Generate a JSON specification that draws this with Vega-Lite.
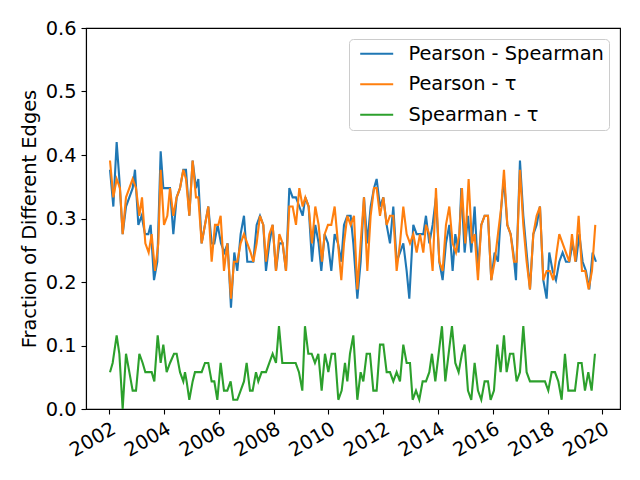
{
  "$schema": "https://vega.github.io/schema/vega-lite/v6.json",
  "width": 534,
  "height": 381,
  "autosize": {"type": "none"},
  "padding": {"left": 86, "top": 28, "right": 20, "bottom": 71},
  "background": "white",
  "config": {
    "font": "DejaVu Sans",
    "view": {"stroke": "black", "strokeWidth": 1.1},
    "axis": {"grid": false, "domainColor": "black", "domainWidth": 1.1, "tickColor": "black", "tickWidth": 1.1, "tickSize": 5, "labelFont": "DejaVu Sans", "labelFontSize": 19.4, "labelColor": "black", "labelPadding": 5, "titleFont": "DejaVu Sans", "titleFontSize": 19.4, "titleFontWeight": "normal", "titleColor": "black"},
    "legend": {"orient": "top-right", "offset": 11, "fillColor": "white", "strokeColor": "#cccccc", "cornerRadius": 4, "padding": 5, "labelFontSize": 19.4, "labelFont": "DejaVu Sans", "labelColor": "black", "symbolType": "M-2,0H2", "symbolSize": 272, "symbolStrokeWidth": 2.1, "symbolOffset": 13, "rowPadding": 9.5, "labelOffset": 22, "labelLimit": 400}
  },
  "encoding": {
    "x": {"field": "t", "type": "quantitative", "scale": {"domain": [2001.15, 2020.64], "nice": false, "zero": false}, "axis": {"values": [2002, 2004, 2006, 2008, 2010, 2012, 2014, 2016, 2018, 2020], "format": "d", "labelAngle": -30, "labelAlign": "right", "labelBaseline": "top", "title": null}},
    "y": {"field": "v", "type": "quantitative", "scale": {"domain": [0, 0.6], "nice": false}, "axis": {"values": [0, 0.1, 0.2, 0.3, 0.4, 0.5, 0.6], "format": ".1f", "title": "Fraction of Different Edges", "titlePadding": 6}}
  },
  "layer": [
    {
      "data": {"values": [
        {"t":2002.026,"v":0.3768},{"t":2002.148,"v":0.3188},{"t":2002.269,"v":0.4203},{"t":2002.367,"v":0.3623},{"t":2002.488,"v":0.2754},{"t":2002.610,"v":0.3188},{"t":2002.732,"v":0.3333},{"t":2002.853,"v":0.3478},{"t":2002.938,"v":0.3768},{"t":2003.060,"v":0.2899},
        {"t":2003.182,"v":0.3043},{"t":2003.304,"v":0.2754},{"t":2003.425,"v":0.2754},{"t":2003.510,"v":0.2899},{"t":2003.632,"v":0.2029},{"t":2003.753,"v":0.2319},{"t":2003.875,"v":0.4058},{"t":2003.972,"v":0.3478},{"t":2004.094,"v":0.3478},{"t":2004.216,"v":0.3478},
        {"t":2004.337,"v":0.2754},{"t":2004.459,"v":0.3333},{"t":2004.581,"v":0.3478},{"t":2004.702,"v":0.3768},{"t":2004.799,"v":0.3768},{"t":2004.921,"v":0.3043},{"t":2005.042,"v":0.3913},{"t":2005.164,"v":0.3478},{"t":2005.249,"v":0.3623},{"t":2005.371,"v":0.2609},
        {"t":2005.492,"v":0.2899},{"t":2005.614,"v":0.3188},{"t":2005.736,"v":0.2609},{"t":2005.833,"v":0.2609},{"t":2005.955,"v":0.2899},{"t":2006.076,"v":0.2609},{"t":2006.198,"v":0.2464},{"t":2006.320,"v":0.2609},{"t":2006.441,"v":0.1594},{"t":2006.563,"v":0.2464},
        {"t":2006.672,"v":0.2174},{"t":2006.794,"v":0.2754},{"t":2006.916,"v":0.3043},{"t":2007.037,"v":0.2319},{"t":2007.159,"v":0.2319},{"t":2007.256,"v":0.2319},{"t":2007.378,"v":0.2899},{"t":2007.500,"v":0.3043},{"t":2007.621,"v":0.2899},{"t":2007.719,"v":0.2174},
        {"t":2007.841,"v":0.2609},{"t":2007.962,"v":0.2899},{"t":2008.084,"v":0.2174},{"t":2008.206,"v":0.2609},{"t":2008.327,"v":0.2609},{"t":2008.449,"v":0.2174},{"t":2008.571,"v":0.3478},{"t":2008.692,"v":0.3333},{"t":2008.814,"v":0.3333},{"t":2008.936,"v":0.3188},
        {"t":2009.057,"v":0.3043},{"t":2009.155,"v":0.3333},{"t":2009.276,"v":0.3188},{"t":2009.398,"v":0.2319},{"t":2009.519,"v":0.2899},{"t":2009.641,"v":0.2609},{"t":2009.738,"v":0.2174},{"t":2009.860,"v":0.2754},{"t":2009.982,"v":0.2609},{"t":2010.103,"v":0.2174},
        {"t":2010.225,"v":0.2754},{"t":2010.347,"v":0.2609},{"t":2010.468,"v":0.2319},{"t":2010.566,"v":0.2899},{"t":2010.688,"v":0.3043},{"t":2010.809,"v":0.3043},{"t":2010.907,"v":0.2609},{"t":2011.053,"v":0.1739},{"t":2011.174,"v":0.2319},{"t":2011.296,"v":0.3333},
        {"t":2011.418,"v":0.2609},{"t":2011.539,"v":0.3188},{"t":2011.661,"v":0.3478},{"t":2011.758,"v":0.3623},{"t":2011.880,"v":0.3188},{"t":2012.002,"v":0.3333},{"t":2012.123,"v":0.2899},{"t":2012.245,"v":0.2609},{"t":2012.366,"v":0.3188},{"t":2012.488,"v":0.2319},
        {"t":2012.610,"v":0.2464},{"t":2012.731,"v":0.2609},{"t":2012.853,"v":0.2174},{"t":2012.950,"v":0.1739},{"t":2013.096,"v":0.2899},{"t":2013.218,"v":0.2754},{"t":2013.340,"v":0.2754},{"t":2013.461,"v":0.2754},{"t":2013.558,"v":0.3043},{"t":2013.680,"v":0.2609},
        {"t":2013.801,"v":0.2899},{"t":2013.923,"v":0.3333},{"t":2014.045,"v":0.2319},{"t":2014.166,"v":0.2029},{"t":2014.288,"v":0.2609},{"t":2014.410,"v":0.2899},{"t":2014.531,"v":0.2174},{"t":2014.629,"v":0.2754},{"t":2014.750,"v":0.2464},{"t":2014.848,"v":0.3478},
        {"t":2014.969,"v":0.2464},{"t":2015.091,"v":0.3043},{"t":2015.212,"v":0.2464},{"t":2015.334,"v":0.3188},{"t":2015.456,"v":0.2174},{"t":2015.577,"v":0.2899},{"t":2015.699,"v":0.3043},{"t":2015.821,"v":0.3043},{"t":2015.942,"v":0.2029},{"t":2016.064,"v":0.2464},
        {"t":2016.186,"v":0.2319},{"t":2016.307,"v":0.3188},{"t":2016.405,"v":0.3623},{"t":2016.527,"v":0.2899},{"t":2016.648,"v":0.2754},{"t":2016.746,"v":0.2464},{"t":2016.843,"v":0.2029},{"t":2016.989,"v":0.3913},{"t":2017.111,"v":0.3043},{"t":2017.232,"v":0.2464},
        {"t":2017.354,"v":0.1884},{"t":2017.476,"v":0.2754},{"t":2017.597,"v":0.2899},{"t":2017.719,"v":0.3188},{"t":2017.841,"v":0.2029},{"t":2017.962,"v":0.1739},{"t":2018.059,"v":0.2464},{"t":2018.181,"v":0.2174},{"t":2018.303,"v":0.2029},{"t":2018.424,"v":0.2319},
        {"t":2018.546,"v":0.2464},{"t":2018.668,"v":0.2319},{"t":2018.789,"v":0.2319},{"t":2018.911,"v":0.2609},{"t":2019.033,"v":0.2319},{"t":2019.154,"v":0.2754},{"t":2019.276,"v":0.2319},{"t":2019.398,"v":0.2174},{"t":2019.519,"v":0.1884},{"t":2019.641,"v":0.2464},
        {"t":2019.763,"v":0.2319}
      ]},
      "mark": {"type": "line", "strokeWidth": 2.1},
      "encoding": {"color": {"datum": "Pearson - Spearman", "type": "nominal", "scale": {"domain": ["Pearson - Spearman", "Pearson - τ", "Spearman - τ"], "range": ["#1f77b4", "#ff7f0e", "#2ca02c"]}, "legend": {"title": null}}}
    },
    {
      "data": {"values": [
        {"t":2002.026,"v":0.3913},{"t":2002.148,"v":0.3333},{"t":2002.269,"v":0.3623},{"t":2002.391,"v":0.3478},{"t":2002.488,"v":0.2754},{"t":2002.610,"v":0.3333},{"t":2002.732,"v":0.3478},{"t":2002.853,"v":0.3623},{"t":2002.975,"v":0.3478},{"t":2003.097,"v":0.3043},
        {"t":2003.194,"v":0.3333},{"t":2003.316,"v":0.2609},{"t":2003.437,"v":0.2464},{"t":2003.547,"v":0.2754},{"t":2003.668,"v":0.2174},{"t":2003.790,"v":0.2609},{"t":2003.875,"v":0.3768},{"t":2003.997,"v":0.2899},{"t":2004.118,"v":0.3043},{"t":2004.216,"v":0.3478},
        {"t":2004.337,"v":0.3043},{"t":2004.459,"v":0.3333},{"t":2004.581,"v":0.3478},{"t":2004.702,"v":0.3768},{"t":2004.799,"v":0.3623},{"t":2004.921,"v":0.3043},{"t":2005.042,"v":0.3913},{"t":2005.164,"v":0.3333},{"t":2005.249,"v":0.3333},{"t":2005.371,"v":0.2609},
        {"t":2005.492,"v":0.2899},{"t":2005.614,"v":0.3188},{"t":2005.736,"v":0.2319},{"t":2005.857,"v":0.2899},{"t":2005.979,"v":0.2899},{"t":2006.064,"v":0.3043},{"t":2006.186,"v":0.2174},{"t":2006.307,"v":0.2609},{"t":2006.441,"v":0.1739},{"t":2006.551,"v":0.2319},
        {"t":2006.672,"v":0.2319},{"t":2006.794,"v":0.2609},{"t":2006.916,"v":0.2754},{"t":2007.037,"v":0.2609},{"t":2007.159,"v":0.2464},{"t":2007.256,"v":0.2319},{"t":2007.378,"v":0.2609},{"t":2007.500,"v":0.3043},{"t":2007.621,"v":0.2899},{"t":2007.719,"v":0.2319},
        {"t":2007.841,"v":0.2754},{"t":2007.962,"v":0.2899},{"t":2008.084,"v":0.2174},{"t":2008.206,"v":0.2754},{"t":2008.327,"v":0.2609},{"t":2008.449,"v":0.2174},{"t":2008.571,"v":0.3188},{"t":2008.692,"v":0.3188},{"t":2008.814,"v":0.2899},{"t":2008.936,"v":0.3478},
        {"t":2009.057,"v":0.3188},{"t":2009.155,"v":0.3333},{"t":2009.276,"v":0.3188},{"t":2009.398,"v":0.2609},{"t":2009.519,"v":0.3188},{"t":2009.641,"v":0.2899},{"t":2009.763,"v":0.2319},{"t":2009.860,"v":0.2754},{"t":2009.982,"v":0.2899},{"t":2010.103,"v":0.2899},
        {"t":2010.225,"v":0.3188},{"t":2010.347,"v":0.2609},{"t":2010.468,"v":0.2029},{"t":2010.566,"v":0.2609},{"t":2010.688,"v":0.3043},{"t":2010.809,"v":0.2899},{"t":2010.931,"v":0.3043},{"t":2011.053,"v":0.1884},{"t":2011.174,"v":0.2609},{"t":2011.296,"v":0.3333},
        {"t":2011.418,"v":0.2174},{"t":2011.539,"v":0.3043},{"t":2011.661,"v":0.3478},{"t":2011.758,"v":0.3478},{"t":2011.880,"v":0.3043},{"t":2012.002,"v":0.3333},{"t":2012.123,"v":0.2899},{"t":2012.245,"v":0.3043},{"t":2012.366,"v":0.3043},{"t":2012.488,"v":0.2174},
        {"t":2012.610,"v":0.2609},{"t":2012.731,"v":0.3188},{"t":2012.853,"v":0.2754},{"t":2012.975,"v":0.2609},{"t":2013.096,"v":0.2754},{"t":2013.218,"v":0.2464},{"t":2013.340,"v":0.2754},{"t":2013.461,"v":0.2464},{"t":2013.558,"v":0.2899},{"t":2013.680,"v":0.2754},
        {"t":2013.801,"v":0.2174},{"t":2013.923,"v":0.3478},{"t":2014.045,"v":0.2319},{"t":2014.166,"v":0.2174},{"t":2014.288,"v":0.2899},{"t":2014.410,"v":0.3188},{"t":2014.531,"v":0.2609},{"t":2014.653,"v":0.2464},{"t":2014.775,"v":0.2754},{"t":2014.872,"v":0.3478},
        {"t":2014.994,"v":0.2609},{"t":2015.115,"v":0.3623},{"t":2015.237,"v":0.2609},{"t":2015.334,"v":0.2754},{"t":2015.456,"v":0.2029},{"t":2015.577,"v":0.2899},{"t":2015.699,"v":0.3043},{"t":2015.821,"v":0.3043},{"t":2015.942,"v":0.2029},{"t":2016.064,"v":0.2319},
        {"t":2016.186,"v":0.2754},{"t":2016.307,"v":0.3188},{"t":2016.405,"v":0.3768},{"t":2016.527,"v":0.2899},{"t":2016.648,"v":0.2754},{"t":2016.770,"v":0.2319},{"t":2016.867,"v":0.2319},{"t":2016.989,"v":0.3768},{"t":2017.111,"v":0.2899},{"t":2017.232,"v":0.2319},
        {"t":2017.354,"v":0.1884},{"t":2017.476,"v":0.2754},{"t":2017.597,"v":0.3043},{"t":2017.719,"v":0.3188},{"t":2017.841,"v":0.2029},{"t":2017.962,"v":0.2174},{"t":2018.084,"v":0.2174},{"t":2018.205,"v":0.2029},{"t":2018.327,"v":0.2464},{"t":2018.424,"v":0.2754},
        {"t":2018.546,"v":0.2609},{"t":2018.668,"v":0.2464},{"t":2018.789,"v":0.2319},{"t":2018.887,"v":0.2754},{"t":2019.008,"v":0.2319},{"t":2019.130,"v":0.3043},{"t":2019.252,"v":0.2174},{"t":2019.373,"v":0.2174},{"t":2019.495,"v":0.1884},{"t":2019.617,"v":0.2174},
        {"t":2019.738,"v":0.2899}
      ]},
      "mark": {"type": "line", "strokeWidth": 2.1},
      "encoding": {"color": {"datum": "Pearson - τ", "type": "nominal"}}
    },
    {
      "data": {"values": [
        {"t":2002.026,"v":0.0580},{"t":2002.123,"v":0.0725},{"t":2002.269,"v":0.1159},{"t":2002.367,"v":0.0870},{"t":2002.488,"v":0},{"t":2002.610,"v":0.0870},{"t":2002.732,"v":0.0580},{"t":2002.853,"v":0.0290},{"t":2002.975,"v":0.0290},{"t":2003.097,"v":0.0870},
        {"t":2003.218,"v":0.0725},{"t":2003.316,"v":0.0580},{"t":2003.461,"v":0.0580},{"t":2003.547,"v":0.0580},{"t":2003.644,"v":0.0435},{"t":2003.766,"v":0.1159},{"t":2003.875,"v":0.0725},{"t":2003.972,"v":0.1014},{"t":2004.094,"v":0.0580},{"t":2004.216,"v":0.0725},
        {"t":2004.362,"v":0.0870},{"t":2004.459,"v":0.0870},{"t":2004.581,"v":0.0580},{"t":2004.702,"v":0.0435},{"t":2004.763,"v":0.0580},{"t":2004.823,"v":0.0435},{"t":2004.921,"v":0.0145},{"t":2005.042,"v":0.0435},{"t":2005.127,"v":0.0580},{"t":2005.249,"v":0.0580},
        {"t":2005.371,"v":0.0580},{"t":2005.492,"v":0.0725},{"t":2005.614,"v":0.0725},{"t":2005.736,"v":0.0435},{"t":2005.833,"v":0.0435},{"t":2005.943,"v":0.0145},{"t":2006.064,"v":0.0725},{"t":2006.186,"v":0.0290},{"t":2006.307,"v":0.0290},{"t":2006.429,"v":0.0435},
        {"t":2006.526,"v":0.0145},{"t":2006.672,"v":0.0145},{"t":2006.794,"v":0.0290},{"t":2006.916,"v":0.0435},{"t":2007.013,"v":0.0725},{"t":2007.135,"v":0.0290},{"t":2007.232,"v":0.0290},{"t":2007.354,"v":0.0580},{"t":2007.439,"v":0.0435},{"t":2007.561,"v":0.0580},
        {"t":2007.719,"v":0.0580},{"t":2007.841,"v":0.0725},{"t":2007.962,"v":0.0870},{"t":2008.084,"v":0.0725},{"t":2008.193,"v":0.1304},{"t":2008.315,"v":0.0725},{"t":2008.437,"v":0.0725},{"t":2008.558,"v":0.0725},{"t":2008.680,"v":0.0725},{"t":2008.802,"v":0.0725},
        {"t":2008.923,"v":0.0580},{"t":2009.045,"v":0.0290},{"t":2009.142,"v":0.1304},{"t":2009.264,"v":0.0870},{"t":2009.386,"v":0.0870},{"t":2009.507,"v":0.0725},{"t":2009.629,"v":0.0870},{"t":2009.751,"v":0.0290},{"t":2009.872,"v":0.0870},{"t":2009.994,"v":0.0580},
        {"t":2010.116,"v":0.0870},{"t":2010.237,"v":0.0870},{"t":2010.359,"v":0.0145},{"t":2010.481,"v":0.0290},{"t":2010.602,"v":0.0725},{"t":2010.688,"v":0.0435},{"t":2010.785,"v":0.0870},{"t":2010.907,"v":0.1159},{"t":2011.053,"v":0.0145},{"t":2011.174,"v":0.0580},
        {"t":2011.272,"v":0.0435},{"t":2011.393,"v":0.0870},{"t":2011.515,"v":0.0870},{"t":2011.637,"v":0.0290},{"t":2011.758,"v":0.0290},{"t":2011.880,"v":0.1014},{"t":2012.002,"v":0.1014},{"t":2012.123,"v":0.0580},{"t":2012.245,"v":0.0580},{"t":2012.366,"v":0.0435},
        {"t":2012.488,"v":0.0580},{"t":2012.610,"v":0.0435},{"t":2012.731,"v":0.1014},{"t":2012.853,"v":0.0725},{"t":2012.975,"v":0.0725},{"t":2013.072,"v":0.0145},{"t":2013.194,"v":0.0290},{"t":2013.315,"v":0.0145},{"t":2013.437,"v":0.0435},{"t":2013.558,"v":0.0435},
        {"t":2013.680,"v":0.0580},{"t":2013.777,"v":0.0870},{"t":2013.899,"v":0.0435},{"t":2014.020,"v":0.0870},{"t":2014.142,"v":0.1304},{"t":2014.264,"v":0.0435},{"t":2014.385,"v":0.0870},{"t":2014.507,"v":0.1304},{"t":2014.629,"v":0.0725},{"t":2014.750,"v":0.0580},
        {"t":2014.872,"v":0.0870},{"t":2014.969,"v":0.1014},{"t":2015.091,"v":0.0290},{"t":2015.212,"v":0.0145},{"t":2015.334,"v":0.0725},{"t":2015.456,"v":0.0290},{"t":2015.577,"v":0.0145},{"t":2015.699,"v":0.0435},{"t":2015.821,"v":0.0435},{"t":2015.918,"v":0.0145},
        {"t":2016.040,"v":0.0290},{"t":2016.161,"v":0.1014},{"t":2016.283,"v":0.0580},{"t":2016.405,"v":0.1159},{"t":2016.502,"v":0.0580},{"t":2016.624,"v":0.0870},{"t":2016.746,"v":0.0870},{"t":2016.867,"v":0.0435},{"t":2016.989,"v":0.0580},{"t":2017.111,"v":0.1304},
        {"t":2017.232,"v":0.0580},{"t":2017.354,"v":0.0435},{"t":2017.476,"v":0.0435},{"t":2017.597,"v":0.0435},{"t":2017.719,"v":0.0435},{"t":2017.901,"v":0.0435},{"t":2018.023,"v":0.0290},{"t":2018.145,"v":0.0580},{"t":2018.266,"v":0.0580},{"t":2018.388,"v":0.0435},
        {"t":2018.510,"v":0.0145},{"t":2018.631,"v":0.0870},{"t":2018.753,"v":0.0290},{"t":2018.875,"v":0.0290},{"t":2018.996,"v":0.0290},{"t":2019.118,"v":0.0725},{"t":2019.240,"v":0.0725},{"t":2019.361,"v":0.0290},{"t":2019.483,"v":0.0580},{"t":2019.604,"v":0.0290},
        {"t":2019.726,"v":0.0870}
      ]},
      "mark": {"type": "line", "strokeWidth": 2.1},
      "encoding": {"color": {"datum": "Spearman - τ", "type": "nominal"}}
    }
  ]
}
